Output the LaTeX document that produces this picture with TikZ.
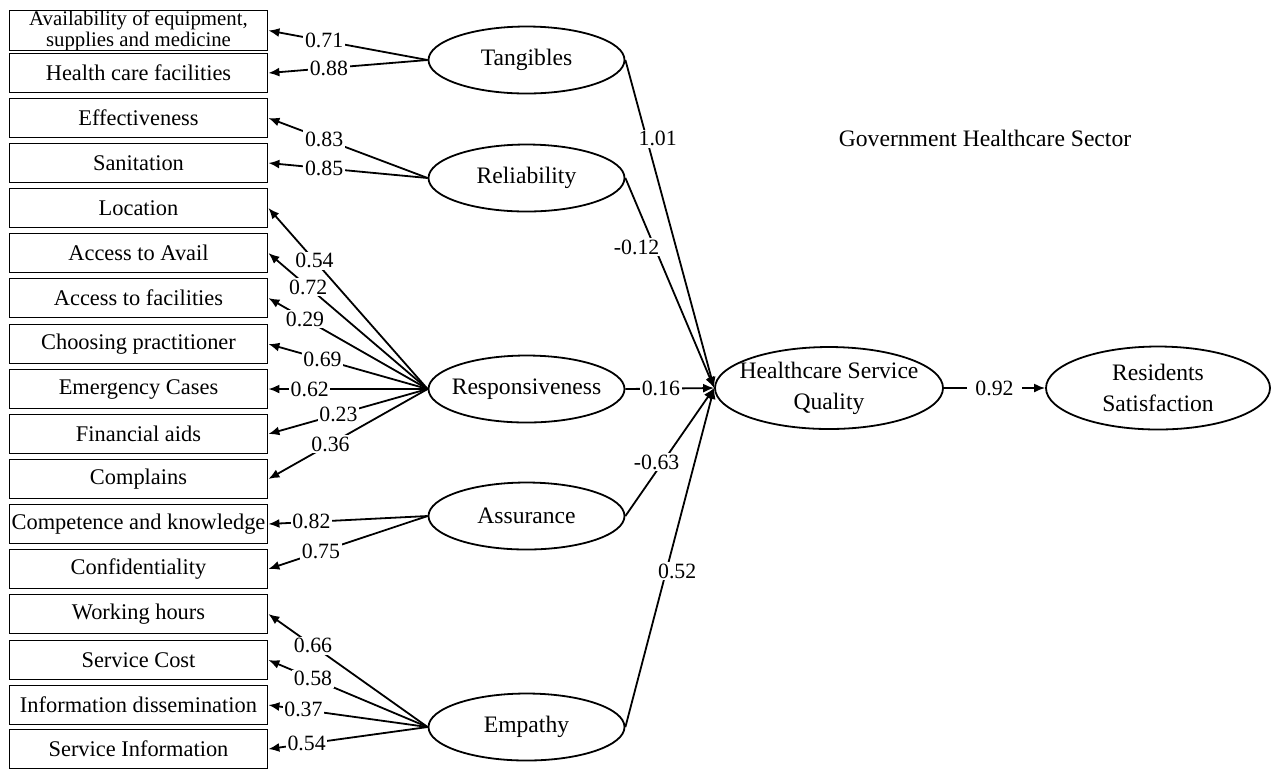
\documentclass[tikz,border=0pt]{standalone}
\usepackage{fontspec}
\setmainfont{Liberation Serif}
\usetikzlibrary{arrows.meta, shapes.geometric}

\begin{document}
\begin{tikzpicture}[x=0.5pt, y=-0.5pt,
        obs/.style={rectangle, draw, line width=0.9pt, minimum width=129pt, minimum height=19.5pt, inner xsep=0.5pt, inner ysep=0pt, font=\fontsize{11.2}{12}\selectfont},
        latent/.style={ellipse, draw, line width=0.9pt, minimum width=98pt, minimum height=33.5pt, inner sep=0pt, font=\fontsize{11.8}{12}\selectfont},
        coef/.style={fill=white, inner sep=0.8pt, font=\fontsize{10.9}{12}\selectfont},
        load/.style={-{Latex[length=5.5pt, width=4.5pt]}, line width=0.9pt}]
        \useasboundingbox (0, 0) rectangle (1272, 768);

        % observed indicators
        \node[obs, align=center, font=\fontsize{10.4}{9}\selectfont] at (138.5, 30.5)   (avail) {Availability of equipment,\\supplies and medicine};
        \node[obs] at (138.5, 73)    (facil) {Health care facilities};
        \node[obs] at (138.5, 118)   (effect) {Effectiveness};
        \node[obs] at (138.5, 163)   (sanit) {Sanitation};
        \node[obs] at (138.5, 208)   (locat) {Location};
        \node[obs] at (138.5, 253)   (accav) {Access to Avail};
        \node[obs] at (138.5, 298)   (accfa) {Access to facilities};
        \node[obs] at (138.5, 344)   (choos) {Choosing practitioner};
        \node[obs] at (138.5, 389)   (emerg) {Emergency Cases};
        \node[obs] at (138.5, 434)   (finan) {Financial aids};
        \node[obs] at (138.5, 479)   (compl) {Complains};
        \node[obs] at (138.5, 524)   (compe) {Competence and knowledge};
        \node[obs] at (138.5, 569)   (confi) {Confidentiality};
        \node[obs] at (138.5, 614)   (workh) {Working hours};
        \node[obs] at (138.5, 660)   (scost) {Service Cost};
        \node[obs] at (138.5, 705)   (idiss) {Information dissemination};
        \node[obs] at (138.5, 749)   (sinfo) {Service Information};

        % latent dimensions
        \node[latent] at (526.5, 60)    (tang) {Tangibles};
        \node[latent] at (526.5, 178)   (reli) {Reliability};
        \node[latent, inner xsep=-5pt] at (526.5, 389)   (resp) {Responsiveness};
        \node[latent] at (526.5, 516)   (assu) {Assurance};
        \node[latent] at (526.5, 727)   (empa) {Empathy};
        \node[latent, align=center, font=\fontsize{11.8}{15.5}\selectfont, inner xsep=-5pt, minimum width=114pt, minimum height=41pt] at (829, 388)   (hsq) {Healthcare Service\\Quality};
        \node[latent, align=center, font=\fontsize{11.8}{15.5}\selectfont, inner xsep=-4pt, minimum width=112pt, minimum height=41.5pt] at (1158, 388)   (resat) {Residents\\Satisfaction};

        \node[font=\fontsize{11.8}{12}\selectfont] at (985, 138)   (sector) {Government Healthcare Sector};

        % loadings
        \draw [load] (tang.west) -- node[coef, pos=0.65] {0.71} (avail.east);
        \draw [load] (tang.west) -- node[coef, pos=0.62] {0.88} (facil.east);
        \draw [load] (reli.west) -- node[coef, pos=0.65] {0.83} (effect.east);
        \draw [load] (reli.west) -- node[coef, pos=0.65] {0.85} (sanit.east);
        \draw [load] (resp.west) -- node[coef, pos=0.71] {0.54} (locat.east);
        \draw [load] (resp.west) -- node[coef, pos=0.75] {0.72} (accav.east);
        \draw [load] (resp.west) -- node[coef, pos=0.77] {0.29} (accfa.east);
        \draw [load] (resp.west) -- node[coef, pos=0.66] {0.69} (choos.east);
        \draw [load] (resp.west) -- node[coef, pos=0.74] {0.62} (emerg.east);
        \draw [load] (resp.west) -- node[coef, pos=0.56] {0.23} (finan.east);
        \draw [load] (resp.west) -- node[coef, pos=0.61] {0.36} (compl.east);
        \draw [load] (assu.west) -- node[coef, pos=0.73] {0.82} (compe.east);
        \draw [load] (assu.west) -- node[coef, pos=0.67] {0.75} (confi.east);
        \draw [load] (empa.west) -- node[coef, pos=0.72] {0.66} (workh.east);
        \draw [load] (empa.west) -- node[coef, pos=0.72] {0.58} (scost.east);
        \draw [load] (empa.west) -- node[coef, pos=0.78] {0.37} (idiss.east);
        \draw [load] (empa.west) -- node[coef, pos=0.76] {0.54} (sinfo.east);

        % structural paths
        \draw [load] (tang.east) -- node[coef, pos=0.24, xshift=5.5pt] {1.01} (hsq.west);
        \draw [load] (reli.east) -- node[coef, pos=0.33, xshift=-9pt] {-0.12} (hsq.west);
        \draw [load] (resp.east) -- node[coef, pos=0.4] {0.16} (hsq.west);
        \draw [load] (assu.east) -- node[coef, pos=0.42, xshift=-3pt] {-0.63} (hsq.west);
        \draw [load] (empa.east) -- node[coef, pos=0.46, xshift=5.5pt] {0.52} (hsq.west);
        \draw [load] (hsq.east) -- node[coef, pos=0.5, inner xsep=4pt] {0.92} (resat.west);
    \end{tikzpicture}
\end{document}
